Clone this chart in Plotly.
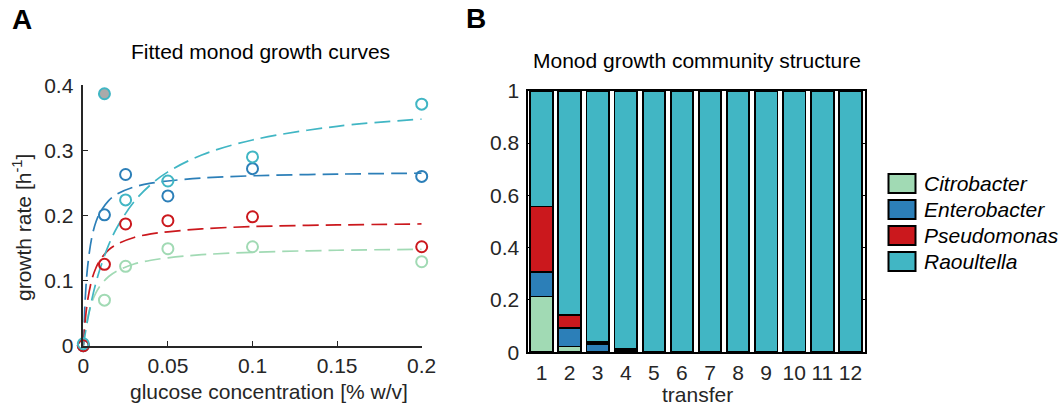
import plotly.graph_objects as go

W, H = 1062, 406
FONT = "Liberation Sans, Arial, Helvetica, sans-serif"
TXT = "#262626"

species = ["Citrobacter", "Enterobacter", "Pseudomonas", "Raoultella"]
colors = ["#A1DAB4", "#2C7FB8", "#CB181D", "#41B6C4"]

# Panel A: measured growth rates
glucose = [0, 0.0125, 0.025, 0.05, 0.1, 0.2]
rate_citrobacter = [0.0, 0.070, 0.122, 0.149, 0.152, 0.129]
rate_enterobacter = [0.0, 0.201, 0.263, 0.230, 0.272, 0.260]
rate_pseudomonas = [0.0, 0.125, 0.187, 0.192, 0.198, 0.152]
rate_raoultella = [0.003, 0.387, 0.224, 0.253, 0.290, 0.371]
raoultella_outlier = [False, True, False, False, False, False]

# Panel A: fitted curves
fit_x = [0, 0.001, 0.0025, 0.005, 0.0075, 0.01, 0.015, 0.02, 0.03, 0.04, 0.05, 0.07, 0.1, 0.15, 0.2]
fit_citrobacter = [0, 0.0201, 0.0420, 0.066, 0.0814, 0.092, 0.1063, 0.115, 0.1254, 0.1313, 0.135, 0.1398, 0.1435, 0.1466, 0.148]
fit_enterobacter = [0, 0.0656, 0.1201, 0.166, 0.1903, 0.205, 0.2229, 0.233, 0.2438, 0.2497, 0.253, 0.2576, 0.261, 0.2636, 0.265]
fit_pseudomonas = [0, 0.0349, 0.0685, 0.101, 0.1197, 0.132, 0.1472, 0.156, 0.1662, 0.1718, 0.175, 0.1795, 0.183, 0.1855, 0.187]
fit_raoultella = [0, 0.0165, 0.0387, 0.0704, 0.0968, 0.119, 0.1548, 0.182, 0.2211, 0.2477, 0.267, 0.2929, 0.316, 0.337, 0.348]

# Panel B: community structure
transfers = list(range(1, 13))
frac_citrobacter = [0.213, 0.022, 0.002, 0.0005, 0.0003, 0, 0, 0, 0, 0, 0, 0]
frac_enterobacter = [0.095, 0.070, 0.029, 0.009, 0.002, 0.0005, 0, 0, 0, 0, 0, 0]
frac_pseudomonas = [0.249, 0.051, 0.007, 0.002, 0.001, 0, 0, 0, 0, 0, 0, 0]
frac_raoultella = [0.443, 0.857, 0.962, 0.9885, 0.9967, 0.9995, 1, 1, 1, 1, 1, 1]

rates = [rate_citrobacter, rate_enterobacter, rate_pseudomonas, rate_raoultella]
fits = [fit_citrobacter, fit_enterobacter, fit_pseudomonas, fit_raoultella]
fracs = [frac_citrobacter, frac_enterobacter, frac_pseudomonas, frac_raoultella]


def px(x):
    return x / W


def py(y):
    return 1 - y / H


fig = go.Figure()

# fitted dashed curves
for name, col, fy in zip(species, colors, fits):
    fig.add_trace(go.Scatter(
        x=fit_x, y=fy, mode="lines", line=dict(color=col, width=1.7, dash="16px,7px", shape="spline"),
        showlegend=False, xaxis="x", yaxis="y", hoverinfo="skip"))

# data points
for i, (name, col, ry) in enumerate(zip(species, colors, rates)):
    if name == "Raoultella":
        fill = ["#AAAAAA" if o else "rgba(0,0,0,0)" for o in raoultella_outlier]
    else:
        fill = "rgba(0,0,0,0)"
    fig.add_trace(go.Scatter(
        x=glucose, y=ry, mode="markers", cliponaxis=False,
        marker=dict(symbol="circle", size=11, color=fill, line=dict(color=col, width=2)),
        showlegend=False, xaxis="x", yaxis="y", name=name))

# stacked bars
for name, col, fr in zip(species, colors, fracs):
    fig.add_trace(go.Bar(
        x=transfers, y=fr, name=name, width=0.8,
        marker=dict(color=col, line=dict(color="black", width=1.8)),
        showlegend=False, xaxis="x2", yaxis="y2"))

FS = 21
axis_common = dict(showgrid=False, zeroline=False, showline=True, linecolor=TXT, linewidth=1.5,
                   ticks="inside", ticklen=5, tickcolor=TXT, tickwidth=1.2, automargin=False,
                   tickfont=dict(family=FONT, size=FS, color=TXT))

fig.update_layout(
    template="none",
    width=W, height=H, margin=dict(l=0, r=0, t=0, b=0, pad=0, autoexpand=False),
    paper_bgcolor="white", plot_bgcolor="white",
    barmode="stack", bargap=0.2, showlegend=False,
    xaxis=dict(domain=[px(83.3), px(421.7)], range=[0, 0.2],
               tickvals=[0, 0.05, 0.1, 0.15, 0.2], ticktext=["0", "0.05", "0.1", "0.15", "0.2"],
               anchor="y", **axis_common),
    yaxis=dict(domain=[py(345.7), py(85.3)], range=[0, 0.4],
               tickvals=[0, 0.1, 0.2, 0.3, 0.4], ticktext=["0", "0.1", "0.2", "0.3", "0.4"],
               anchor="x", ticklabelstandoff=4, **axis_common),
    xaxis2=dict(domain=[px(527.5), px(864.5)], range=[0.5, 12.5], tickvals=transfers,
                ticktext=[str(t) for t in transfers], anchor="y2", showgrid=False, zeroline=False,
                showline=True, mirror=True, linecolor="black", linewidth=2, ticks="", automargin=False,
                tickfont=dict(family=FONT, size=FS, color=TXT)),
    yaxis2=dict(domain=[py(352.3), py(90.7)], range=[0, 1],
                tickvals=[0, 0.2, 0.4, 0.6, 0.8, 1], ticktext=["0", "0.2", "0.4", "0.6", "0.8", "1"],
                anchor="x2", showgrid=False, zeroline=False, showline=True, mirror="allticks",
                linecolor="black", linewidth=2, ticks="inside", ticklen=3, tickcolor="black",
                ticklabelstandoff=2, automargin=False, tickfont=dict(family=FONT, size=FS, color=TXT)),
)

ann = []
ann.append(dict(text="<b>A</b>", x=px(10), y=py(19), xanchor="left", yanchor="middle",
                font=dict(family=FONT, size=28, color="black")))
ann.append(dict(text="<b>B</b>", x=px(464), y=py(18), xanchor="left", yanchor="middle",
                font=dict(family=FONT, size=28, color="black")))
ann.append(dict(text="Fitted monod growth curves", x=px(260), y=py(51), xanchor="center", yanchor="middle",
                font=dict(family=FONT, size=FS, color="black")))
ann.append(dict(text="Monod growth community structure", x=px(697), y=py(61), xanchor="center",
                yanchor="middle", font=dict(family=FONT, size=FS, color="black")))
ann.append(dict(text="glucose concentration [% w/v]", x=px(269), y=py(391), xanchor="center",
                yanchor="middle", font=dict(family=FONT, size=FS, color=TXT)))
ann.append(dict(text="growth rate [h<sup>-1</sup>]", x=px(22), y=py(228), xanchor="center",
                yanchor="middle", textangle=-90, font=dict(family=FONT, size=FS, color=TXT)))
ann.append(dict(text="transfer", x=px(697), y=py(394), xanchor="center", yanchor="middle",
                font=dict(family=FONT, size=FS, color=TXT)))

shapes = []
leg_y = [183.5, 209.5, 235.5, 261.5]
for name, col, yc in zip(species, colors, leg_y):
    shapes.append(dict(type="rect", xref="paper", yref="paper",
                       x0=px(888.5), x1=px(915.5), y0=py(yc - 9.5), y1=py(yc + 9.5),
                       fillcolor=col, line=dict(color="black", width=2)))
    ann.append(dict(text="<i>%s</i>" % name, x=px(922), y=py(yc), xanchor="left", yanchor="middle",
                    font=dict(family=FONT, size=FS, color="black")))

for a in ann:
    a.setdefault("xref", "paper")
    a.setdefault("yref", "paper")
    a["showarrow"] = False

fig.update_layout(annotations=ann, shapes=shapes)
fig.write_html("out.html")
